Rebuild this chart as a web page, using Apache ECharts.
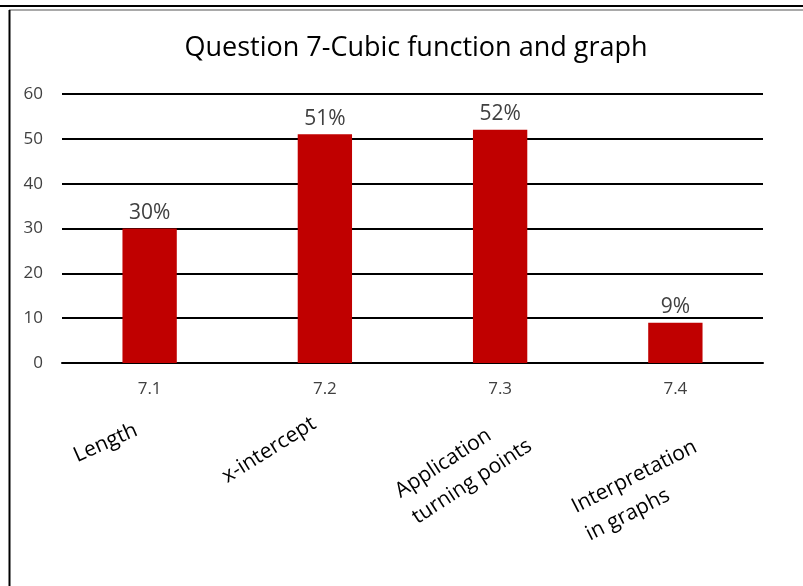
<!DOCTYPE html>
<html><head><meta charset="utf-8">
<script src="https://cdn.jsdelivr.net/npm/echarts@6/dist/echarts.min.js"></script>
<style>html,body{margin:0;padding:0;background:#fff}#c{width:803px;height:586px}</style>
</head><body><div id="c"></div>
<script>
const categories = ['7.1', '7.2', '7.3', '7.4'];
const topicLabels = ['Length', 'x-intercept', 'Application\nturning points', 'Interpretation\nin graphs'];
const values = [30, 51, 52, 9];
const yTicks = [0, 10, 20, 30, 40, 50, 60];

// hand-placed topic text boxes: baseline-start offset (px) from category tick at the x axis, and tilt (deg)
const topicOffsetX = [-72, -97, -99, -99];
const topicOffsetY = [100, 121, 136, 151];
const topicRotate = [24, 32, 33, 27];

const FONT = 'Open Sans';
const TOPIC_SIZE = 21, TOPIC_LH = 31;
const chart = echarts.init(document.getElementById('c'), null, {renderer: 'canvas'});
chart.setOption({
  animation: false,
  backgroundColor: '#fff',
  title: {
    text: 'Question 7-Cubic function and graph',
    left: 411, top: 30, textAlign: 'center',
    textStyle: {fontFamily: FONT, fontSize: 27, fontWeight: 'normal', color: '#000'}
  },
  graphic: [
    {id: 'b1', type: 'line', shape: {x1: 0, y1: 6, x2: 803, y2: 6}, style: {stroke: '#000', lineWidth: 2}},
    {id: 'b2', type: 'line', shape: {x1: 9, y1: 10, x2: 803, y2: 10}, style: {stroke: '#555', lineWidth: 1}},
    {id: 'b3', type: 'line', shape: {x1: 9.5, y1: 10, x2: 9.5, y2: 586}, style: {stroke: '#000', lineWidth: 2}}
  ],
  grid: {left: 62, right: 40, top: 94, bottom: 223},
  xAxis: {
    type: 'category', data: categories,
    axisLine: {show: true, lineStyle: {color: '#000', width: 2}},
    axisTick: {show: false},
    axisLabel: {margin: 18, fontFamily: FONT, fontSize: 17, color: '#404040'}
  },
  yAxis: {
    type: 'value', min: 0, max: 60, interval: 10,
    axisLine: {show: false}, axisTick: {show: false},
    splitLine: {lineStyle: {color: '#000', width: 2}},
    axisLabel: {
      margin: 19, fontFamily: FONT, fontSize: 17, color: '#404040',
      formatter: v => yTicks.includes(v) ? String(v) : ''
    }
  },
  series: [{
    type: 'bar', data: values,
    barWidth: '31%',
    itemStyle: {color: '#C00000'},
    label: {
      show: true, position: 'top', distance: 5,
      formatter: p => p.value + '%',
      fontFamily: FONT, fontSize: 21, color: '#404040'
    }
  }]
});

const axisY = chart.convertToPixel({yAxisIndex: 0}, 0);
const baseToTop = TOPIC_LH / 2 + 0.33 * TOPIC_SIZE;
chart.setOption({
  graphic: topicLabels.map((t, i) => {
    const x = chart.convertToPixel({xAxisIndex: 0}, i);
    const a = topicRotate[i] * Math.PI / 180;
    return {
      id: 'topic' + i, type: 'text',
      x: x + topicOffsetX[i] - baseToTop * Math.sin(a),
      y: axisY + topicOffsetY[i] - baseToTop * Math.cos(a),
      rotation: a,
      style: {
        text: t, fontFamily: FONT, fontSize: TOPIC_SIZE, lineHeight: TOPIC_LH, fill: '#000',
        align: 'left', verticalAlign: 'top'
      }
    };
  })
});
</script></body></html>
